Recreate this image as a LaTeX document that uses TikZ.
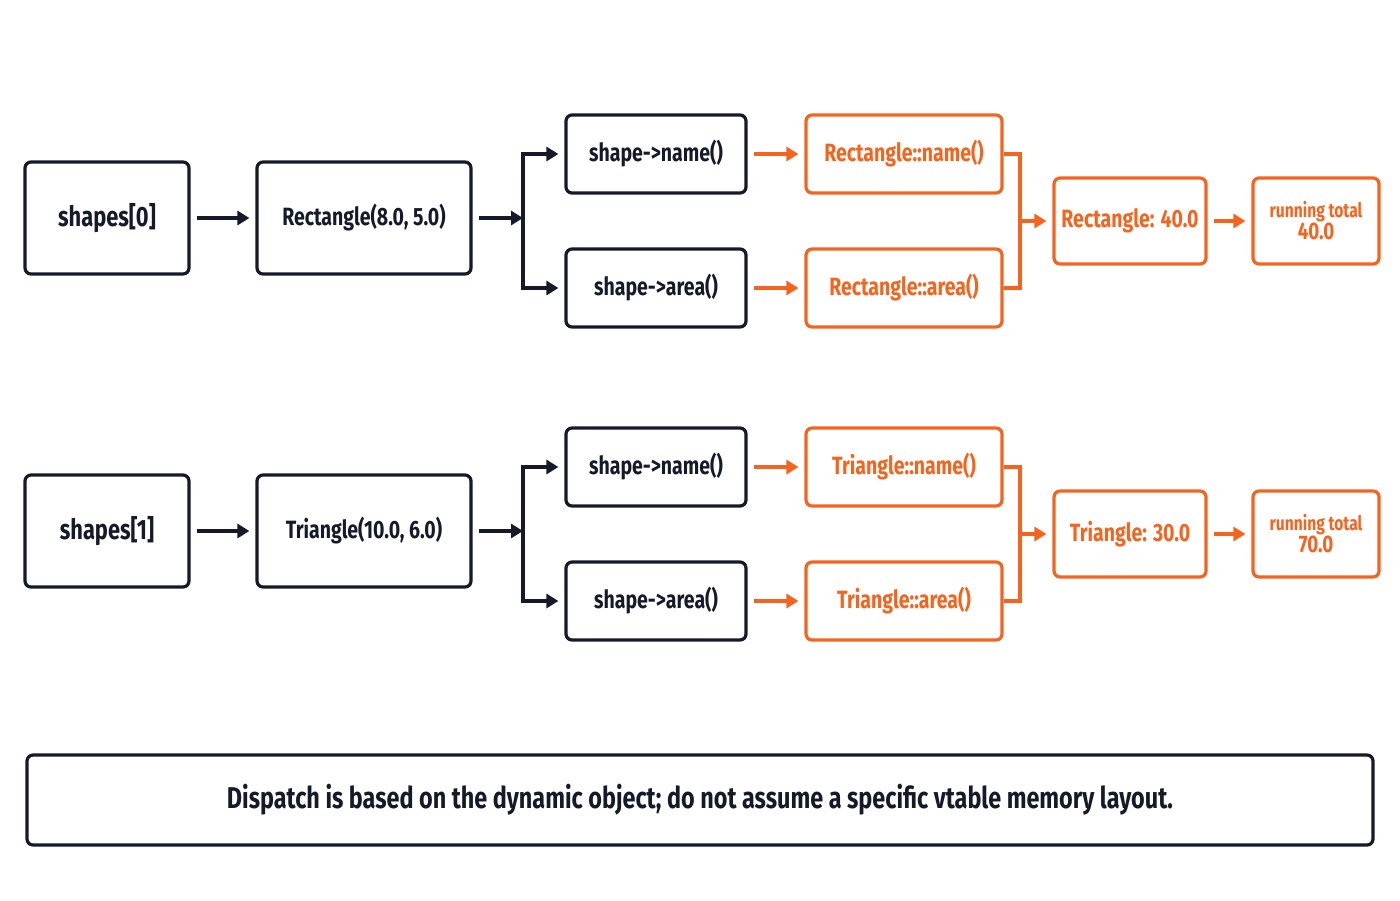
\documentclass[tikz,border=0pt]{standalone}
\usepackage{fontspec}
\setmainfont{Fira Sans}[FakeStretch=0.78]
\usetikzlibrary{arrows.meta}
\definecolor{dk}{HTML}{141A2A}
\definecolor{org}{HTML}{F5641E}
\begin{document}
\begin{tikzpicture}[x=0.5pt,y=-0.5pt,
 bx/.style={draw=dk,line width=1.6pt,rounded corners=3pt,text=dk,font=\bfseries\fontsize{12.5}{14}\selectfont,inner sep=0pt},
 ob/.style={bx,draw=org,text=org},
 ar/.style={-{Triangle[length=6pt,width=7pt]},line width=1.8pt,dk,shorten <=3pt,shorten >=3pt},
 oa/.style={ar,org},
 ln/.style={line width=1.6pt,dk},
 ol/.style={ln,org}]
\useasboundingbox (0,0) rectangle (1400,900);
\foreach \r/\dy/\s/\c/\cls/\res/\tot in {0/0/shapes[0]/{Rectangle(8.0, 5.0)}/Rectangle/{Rectangle: 40.0}/40.0, 1/313/shapes[1]/{Triangle(10.0, 6.0)}/Triangle/{Triangle: 30.0}/70.0}{
\node[bx,minimum width=82pt,minimum height=56pt] (s\r) at (107,218+\dy) {\fontsize{14}{16}\selectfont\s};
\node[bx,minimum width=107pt,minimum height=56pt] (c\r) at (364,218+\dy) {\c};
\node[bx,minimum width=90pt,minimum height=39pt] (n\r) at (656,154+\dy) {shape->name()};
\node[bx,minimum width=90pt,minimum height=39pt] (a\r) at (656,288+\dy) {shape->area()};
\node[ob,minimum width=98pt,minimum height=39pt] (cn\r) at (904,154+\dy) {\cls::name()};
\node[ob,minimum width=98pt,minimum height=39pt] (ca\r) at (904,288+\dy) {\cls::area()};
\node[ob,minimum width=76pt,minimum height=43pt] (re\r) at (1130,221+\dy) {\res};
\node[ob,minimum width=63pt,minimum height=43pt,align=center,font=\bfseries\fontsize{10}{11}\selectfont] (t\r) at (1316,221+\dy) {running total\\\fontsize{12}{13}\selectfont\tot};
\draw[ar] (s\r) -- (c\r);
\coordinate (j\r) at (523,218+\dy);
\draw[ar,shorten >=0pt] (c\r) -- (j\r);
\draw[ar,shorten <=0pt] (j\r) |- (n\r.west);
\draw[ar,shorten <=0pt] (j\r) |- (a\r.west);
\draw[oa] (n\r) -- (cn\r);
\draw[oa] (a\r) -- (ca\r);
\coordinate (k\r) at (1020,221+\dy);
\draw[ol] (cn\r.east) -| (k\r) |- (ca\r.east);
\draw[oa,shorten <=0pt] (k\r) -- (re\r);
\draw[oa] (re\r) -- (t\r);
}
\node[bx,minimum width=673pt,minimum height=45pt] (note) at (700,800) {\fontsize{15}{17}\selectfont Dispatch is based on the dynamic object; do not assume a specific vtable memory layout.};
\end{tikzpicture}
\end{document}
